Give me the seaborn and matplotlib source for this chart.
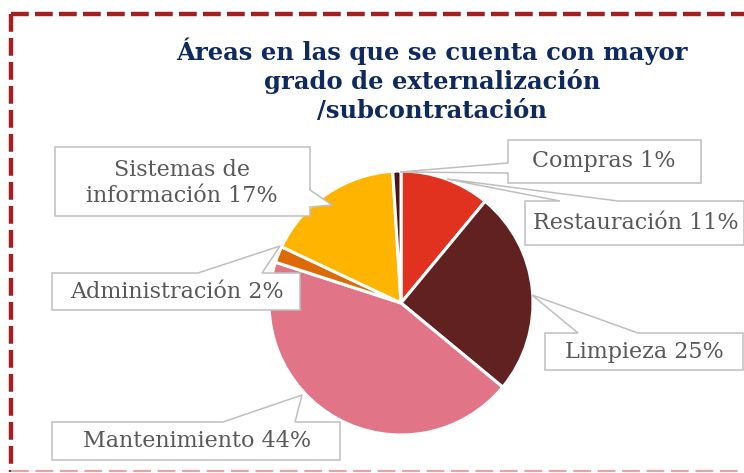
import matplotlib
matplotlib.use("Agg")
import matplotlib.pyplot as plt
import seaborn as sns
from matplotlib.patches import Polygon
from matplotlib.lines import Line2D

# Data (clockwise from 12 o'clock)
areas = ["Restauración", "Limpieza", "Mantenimiento", "Administración",
         "Sistemas de\ninformación", "Compras"]
percent = [11, 25, 44, 2, 17, 1]
colors = ["#E0321F", "#612120", "#E27488", "#DE6A06", "#FFB400", "#4A1414"]

title = "Áreas en las que se cuenta con mayor\ngrado de externalización\n/subcontratación"

sns.set_theme(style="white")
plt.rcParams["font.family"] = ["DejaVu Serif"]

W, H = 744, 473
fig = plt.figure(figsize=(W / 100, H / 100), dpi=100)
ax = fig.add_axes([0, 0, 1, 1])


def Y(y):
    """Convert a top-down pixel row to the axes' data y."""
    return H - y


# Pie
ax.pie(percent, colors=colors, startangle=90, counterclock=False,
       center=(401, Y(303)), radius=132, frame=True,
       wedgeprops=dict(edgecolor="white", linewidth=2.2))
ax.set_xlim(0, W)
ax.set_ylim(0, H)
ax.set_aspect("equal")
ax.axis("off")

# Title
ax.text(432, Y(80), title, ha="center", va="center", fontsize=17.5,
        fontweight="bold", color="#0F2A61", linespacing=1.22)

# Callout boxes, same order as the data:
# (box x0, y0, x1, y1), wedge side, wedge base coords, tip, text centre
callouts = [
    ((525, 201, 744, 245), "top", (560, 618), (447, 179), (636, 223)),   # Restauración
    ((545, 333, 743, 370), "top", (578, 638), (532, 295), (644, 352)),   # Limpieza
    ((52, 422, 340, 460), "top", (223, 295), (302, 395), (197, 441)),    # Mantenimiento
    ((52, 273, 300, 310), "top", (198, 262), (280, 246), (177, 292)),    # Administración
    ((55, 147, 310, 216), "right", (190, 207), (332, 205), (182, 183)),  # Sistemas
    ((508, 140, 701, 183), "left", (163, 173), (400, 172), (604, 161)),  # Compras
]

for (box, side, base, tip, (tx, ty)), name, pct in zip(callouts, areas, percent):
    x0, y0, x1, y1 = box
    if side == "top":
        pts = [(x0, y0), (base[0], y0), tip, (base[1], y0), (x1, y0), (x1, y1), (x0, y1)]
    elif side == "left":
        pts = [(x0, y0), (x1, y0), (x1, y1), (x0, y1), (x0, base[1]), tip, (x0, base[0])]
    else:  # right
        pts = [(x0, y0), (x1, y0), (x1, base[0]), tip, (x1, base[1]), (x1, y1), (x0, y1)]
    poly = Polygon([(px, Y(py)) for px, py in pts], closed=True, facecolor="white",
                   edgecolor="#BFBFBF", linewidth=1.1, zorder=3)
    ax.add_patch(poly)
    ax.text(tx, Y(ty), f"{name} {pct}%", ha="center", va="center", fontsize=16,
            color="#595959", zorder=4, linespacing=1.25)

# Dashed frame around the chart
frame_kw = dict(color="#A3201F", linewidth=3.2, linestyle=(0, (4.0, 1.4)),
                solid_capstyle="butt", dash_capstyle="butt", zorder=5)
ax.add_line(Line2D([11, W + 5], [Y(14), Y(14)], **frame_kw))
ax.add_line(Line2D([11, 11], [Y(14), Y(472)], **frame_kw))
ax.add_line(Line2D([11, W + 5], [Y(471), Y(471)], color="#E8A3A3", linewidth=1.6,
                   linestyle=(0, (8, 3)), zorder=5))

fig.savefig("out.png", dpi=100)
